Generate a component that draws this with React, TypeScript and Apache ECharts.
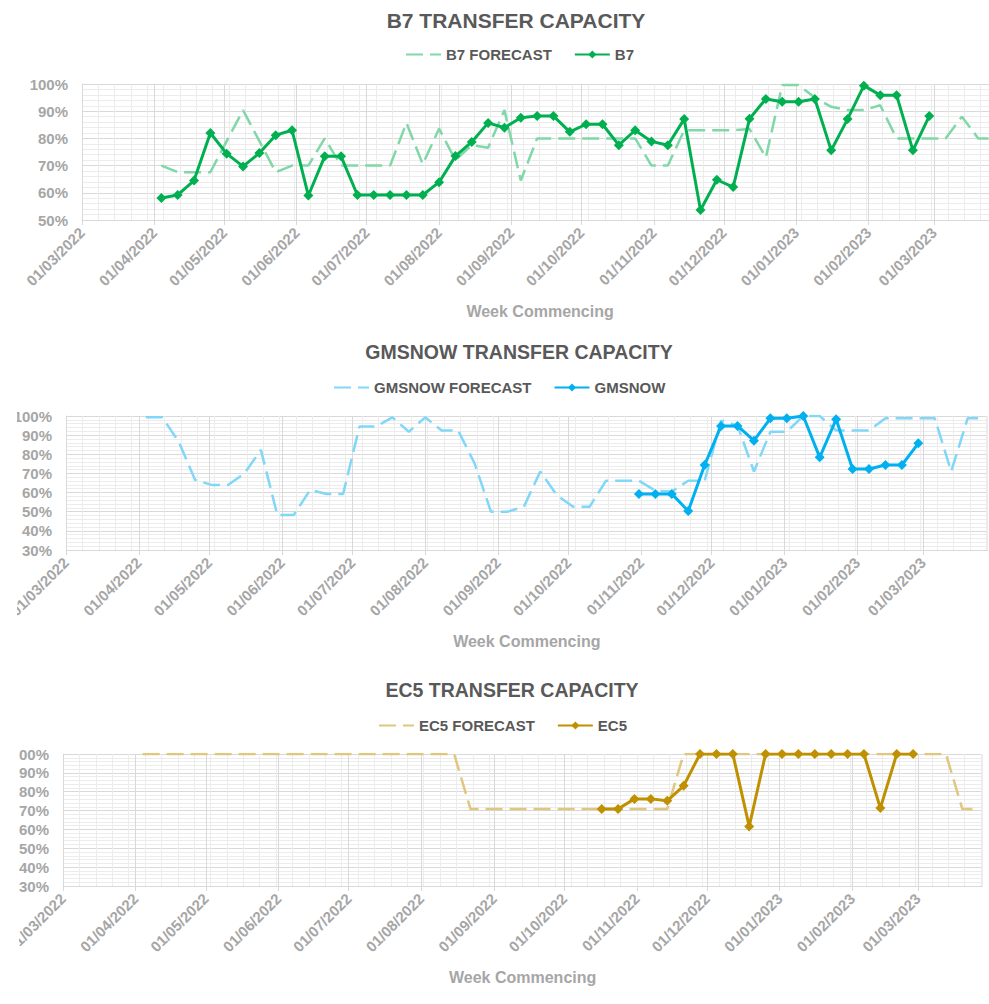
import React, { useEffect, useRef } from 'react';
import * as echarts from 'echarts';

const FONT = '"Liberation Sans", Arial, sans-serif';
const AXIS_START = '2022-03-01';
const FIRST_WEEK = '2022-04-04';
const WEEK_COUNT = 52;
const AXIS_MAX_DAYS = 392.5;

const monthStarts = [
  '2022-03-01', '2022-04-01', '2022-05-01', '2022-06-01', '2022-07-01', '2022-08-01',
  '2022-09-01', '2022-10-01', '2022-11-01', '2022-12-01', '2023-01-01', '2023-02-01', '2023-03-01',
];

// Weekly values (%), week commencing 04/04/2022 .. 27/03/2023
const b7Forecast = [
  70, 67.6, 67.6, 67.6, 79, 90.4, 79, 67.6, 70, 70, 80, 70, 70, 70, 70, 85.7, 70.5, 83.6, 72, 77.5,
  76.6, 90.4, 64.5, 80, 80, 80, 80, 80, 80, 80, 70, 70, 83, 83, 83, 83, 83.5, 73, 99.6, 99.6,
  95, 91.6, 90.4, 90.4, 92.2, 80, 80, 80, 80, 88, 80, 80,
];
const b7Actual = [
  58.1, 59.2, 64.5, 82.0, 74.4, 69.7, 74.6, 81.2, 83.0, 59.0, 73.4, 73.4, 59.2, 59.2, 59.2, 59.2, 59.2, 63.9, 73.5, 78.7,
  85.7, 83.9, 87.6, 88.2, 88.2, 82.4, 85.2, 85.2, 77.5, 83.0, 78.9, 77.5, 87.1, 53.7, 64.8, 62.1, 87.2, 94.5, 93.5, 93.5,
  94.5, 75.6, 87.1, 99.4, 95.9, 95.9, 75.6, 88.2, null, null, null, null,
];
const gmsForecast = [
  99.3, 99.3, 86.6, 66.6, 64, 64, 70, 82.3, 48.3, 48.3, 61.4, 59.3, 59.3, 94.5, 94.5, 99.3, 91.8, 99.3, 92.4, 92.4,
  75.3, 50, 50, 52.6, 71, 58.7, 52.6, 52.6, 66.2, 66.2, 66.2, 61, 60.5, 66.2, 66.2, 97.6, 95, 71, 91.8, 91.8,
  100, 100, 92.4, 92.4, 92.4, 98.8, 98.8, 98.8, 98.8, 71, 98.8, 98.8,
];
const gmsActual = [
  null, null, null, null, null, null, null, null, null, null, null, null, null, null, null, null, null, null, null, null,
  null, null, null, null, null, null, null, null, null, null, 59.3, 59.3, 59.3, 50.4, 74.4, 94.8, 94.8, 87.1, 98.8, 98.8,
  100, 78.4, 98.3, 72.3, 72.3, 74.4, 74.4, 85.7, null, null, null, null,
];
const ec5Forecast = [
  100, 100, 100, 100, 100, 100, 100, 100, 100, 100, 100, 100, 100, 100, 100, 100, 100, 100, 100, 100,
  70.8, 70.8, 70.8, 70.8, 70.8, 70.8, 70.8, 70.8, 70.8, 70.8, 70.8, 70.8, 70.8, 100, 100, 100, 100, 100, 100, 100,
  100, 100, 100, 100, 100, 100, 100, 100, 100, 100, 70.8, 70.8,
];
const ec5Actual = [
  null, null, null, null, null, null, null, null, null, null, null, null, null, null, null, null, null, null, null, null,
  null, null, null, null, null, null, null, null, 70.8, 70.8, 76.2, 76.2, 75.2, 83.1, 100, 100, 100, 61.6, 100, 100,
  100, 100, 100, 100, 100, 71.3, 100, 100, null, null, null, null,
];

const DAY_MS = 86400000;
const dayOf = (d: string) => (Date.parse(d) - Date.parse(AXIS_START)) / DAY_MS;
const weekDays = Array.from({ length: WEEK_COUNT }, (_, i) => dayOf(FIRST_WEEK) + i * 7);
const monthDays = monthStarts.map(dayOf);

const fmtDate = (v: number) => {
  const d = new Date(Date.parse(AXIS_START) + Math.round(v) * DAY_MS);
  const dd = String(d.getUTCDate()).padStart(2, '0');
  const mm = String(d.getUTCMonth() + 1).padStart(2, '0');
  return `${dd}/${mm}/${d.getUTCFullYear()}`;
};

const toPairs = (vals: (number | null)[]) =>
  vals.map((v, i) => [weekDays[i], v]).filter((p) => p[1] !== null);

const MAJOR = '#D9D9D9';
const MINOR = '#ECECEC';
const LABEL = '#A6A6A6';
const TITLE = '#595959';

type Cfg = {
  title: string; forecastName: string; actualName: string;
  forecast: (number | null)[]; actual: (number | null)[];
  color: string; lightColor: string; yMin: number;
  gridLeft: number; gridTop: number; gridHeight: number; ppd: number;
  titleX: number; titleY: number; titleSize: number;
  legendLeft: number; legendTop: number; legendSize: number;
};

function buildOption(c: Cfg) {
  return {
    animation: false,
    textStyle: { fontFamily: FONT },
    graphic: [
      {
        type: 'text', x: c.titleX, y: c.titleY,
        style: { text: c.title, fill: TITLE, font: `bold ${c.titleSize}px ${FONT}`, textAlign: 'center', textVerticalAlign: 'middle' },
      },
    ],
    legend: {
      left: c.legendLeft, top: c.legendTop, itemWidth: 35, itemHeight: 10, itemGap: 22,
      textStyle: { color: TITLE, fontWeight: 'bold', fontSize: c.legendSize, fontFamily: FONT },
      data: [
        { name: c.forecastName, itemStyle: { opacity: 0 } },
        { name: c.actualName },
      ],
    },
    grid: {
      left: c.gridLeft, top: c.gridTop, width: AXIS_MAX_DAYS * c.ppd, height: c.gridHeight,
      outerBoundsMode: 'none', containLabel: false,
    },
    xAxis: [
      {
        type: 'value', min: 0, max: AXIS_MAX_DAYS, position: 'bottom',
        name: 'Week Commencing', nameLocation: 'middle', nameGap: 83,
        nameTextStyle: { color: LABEL, fontWeight: 'bold', fontSize: 16, fontFamily: FONT },
        axisLine: { show: true, lineStyle: { color: MAJOR } },
        axisTick: { show: true, customValues: monthDays, length: 5, lineStyle: { color: MAJOR } },
        axisLabel: {
          customValues: monthDays, rotate: 45, margin: 10, formatter: fmtDate,
          color: LABEL, fontWeight: 'bold', fontSize: 15, fontFamily: FONT,
        },
        splitLine: { show: true, lineStyle: { color: MAJOR } },
      },
      {
        type: 'value', min: 0, max: AXIS_MAX_DAYS, interval: 7, position: 'top',
        axisLine: { show: false }, axisTick: { show: false }, axisLabel: { show: false },
        splitLine: { show: true, lineStyle: { color: MINOR } },
      },
    ],
    yAxis: {
      type: 'value', min: c.yMin, max: 100, interval: 10,
      axisLine: { show: true, lineStyle: { color: MAJOR } },
      axisTick: { show: false },
      axisLabel: { formatter: '{value}%', margin: 14, color: LABEL, fontWeight: 'bold', fontSize: 15, fontFamily: FONT },
      splitLine: { show: true, lineStyle: { color: MAJOR } },
      minorTick: { show: false, splitNumber: 5 },
      minorSplitLine: { show: true, lineStyle: { color: MINOR } },
    },
    series: [
      {
        name: c.forecastName, type: 'line', xAxisIndex: 0, data: toPairs(c.forecast),
        symbol: 'none', lineStyle: { color: c.lightColor, width: 2.5, type: [17, 7] },
        itemStyle: { color: c.lightColor }, z: 2,
      },
      {
        name: c.actualName, type: 'line', xAxisIndex: 0, data: toPairs(c.actual),
        symbol: 'diamond', symbolSize: 10, lineStyle: { color: c.color, width: 3 },
        itemStyle: { color: c.color }, z: 3,
      },
    ],
  };
}

const charts: { box: { left: number; top: number; width: number; height: number }; cfg: Cfg }[] = [
  {
    box: { left: 0, top: 0, width: 989, height: 330 },
    cfg: {
      title: 'B7 TRANSFER CAPACITY', forecastName: 'B7 FORECAST', actualName: 'B7',
      forecast: b7Forecast, actual: b7Actual, color: '#00B050', lightColor: '#80D7A7', yMin: 50,
      gridLeft: 82, gridTop: 84, gridHeight: 136, ppd: 2.334,
      titleX: 516, titleY: 20, titleSize: 21, legendLeft: 400, legendTop: 42, legendSize: 15,
    },
  },
  {
    box: { left: 17, top: 330, width: 972, height: 335 },
    cfg: {
      title: 'GMSNOW TRANSFER CAPACITY', forecastName: 'GMSNOW FORECAST', actualName: 'GMSNOW',
      forecast: gmsForecast, actual: gmsActual, color: '#00B0F0', lightColor: '#80D7F7', yMin: 30,
      gridLeft: 49, gridTop: 86, gridHeight: 134, ppd: 2.348,
      titleX: 502, titleY: 22, titleSize: 19.5, legendLeft: 311, legendTop: 45, legendSize: 15,
    },
  },
  {
    box: { left: 19, top: 665, width: 970, height: 339 },
    cfg: {
      title: 'EC5 TRANSFER CAPACITY', forecastName: 'EC5 FORECAST', actualName: 'EC5',
      forecast: ec5Forecast, actual: ec5Actual, color: '#BF9000', lightColor: '#DFC77F', yMin: 30,
      gridLeft: 44, gridTop: 89, gridHeight: 132, ppd: 2.342,
      titleX: 493, titleY: 25, titleSize: 19.5, legendLeft: 354, legendTop: 48, legendSize: 15,
    },
  },
];

function Chart({ box, cfg }: { box: any; cfg: Cfg }) {
  const ref = useRef<HTMLDivElement>(null);
  useEffect(() => {
    if (!ref.current) return;
    const inst = echarts.init(ref.current, undefined, { renderer: 'svg' });
    inst.setOption(buildOption(cfg) as any);
    return () => inst.dispose();
  }, []);
  return (
    <div
      ref={ref}
      style={{ position: 'absolute', left: box.left, top: box.top, width: box.width, height: box.height }}
    />
  );
}

export default function App() {
  return (
    <div style={{ position: 'fixed', left: 0, top: 0, width: 989, height: 1004, overflow: 'hidden', background: '#fff' }}>
      {charts.map((c, i) => (
        <Chart key={i} box={c.box} cfg={c.cfg} />
      ))}
    </div>
  );
}
